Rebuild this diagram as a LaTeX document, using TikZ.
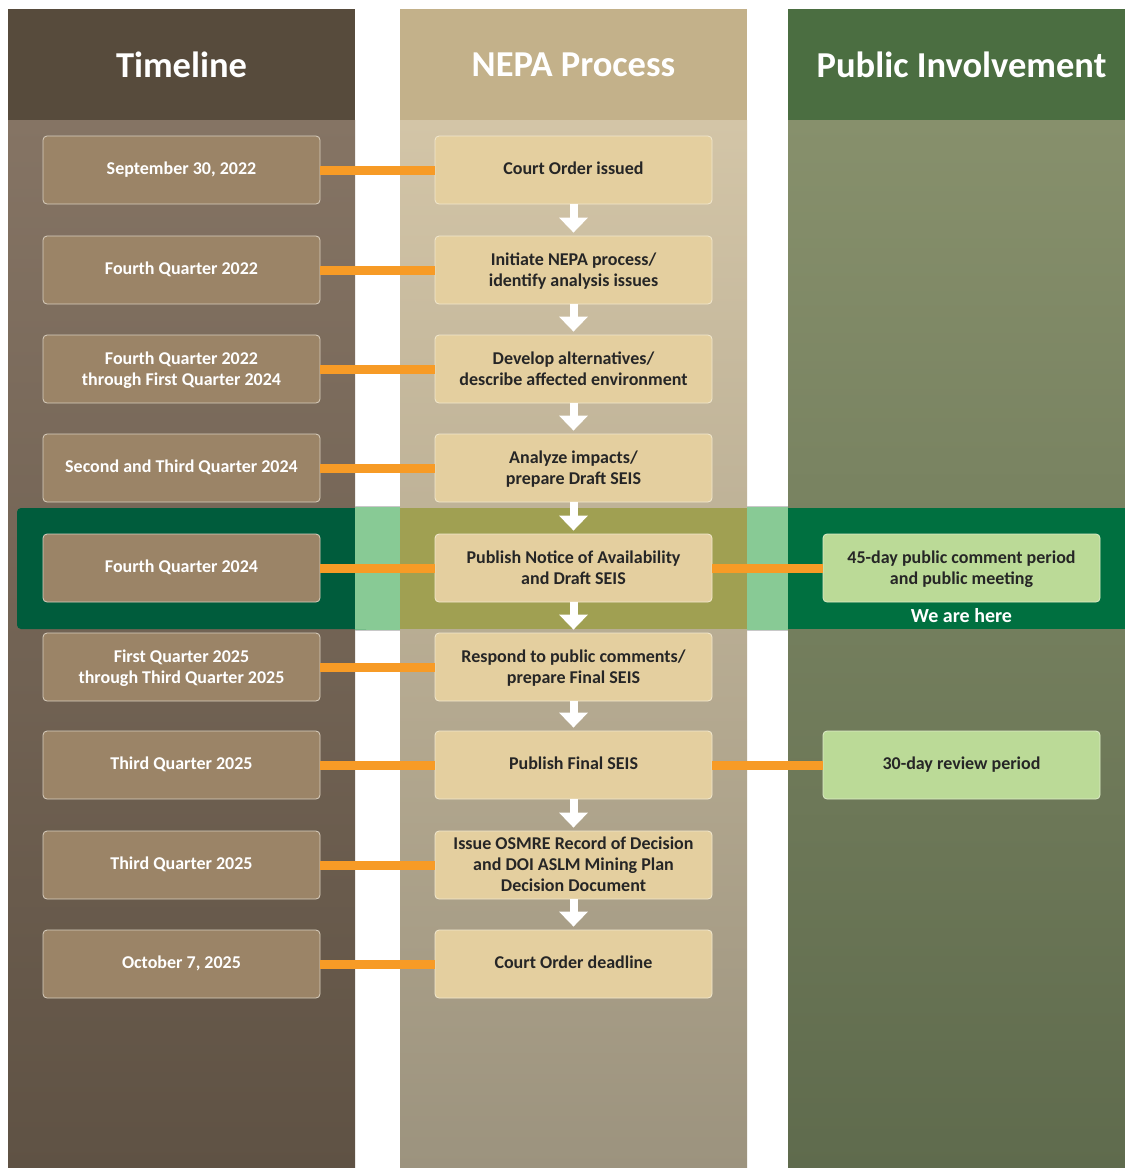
\documentclass[tikz,border=0pt]{standalone}
\usepackage{fontspec}
\setmainfont{Carlito}
\usetikzlibrary{arrows.meta,calc}
\definecolor{tlHead}{HTML}{574B3C}
\definecolor{tlTop}{HTML}{857464}
\definecolor{tlBot}{HTML}{5F5244}
\definecolor{tlBox}{HTML}{9B8467}
\definecolor{tlBorder}{HTML}{D9CFBF}
\definecolor{npHead}{HTML}{C3B18A}
\definecolor{npTop}{HTML}{D3C5A7}
\definecolor{npBot}{HTML}{9C937E}
\definecolor{npBox}{HTML}{E4CF9F}
\definecolor{npBorder}{HTML}{F2E8CE}
\definecolor{puHead}{HTML}{4B6E41}
\definecolor{puTop}{HTML}{87906C}
\definecolor{puBot}{HTML}{5F6B4D}
\definecolor{puBox}{HTML}{BBDA97}
\definecolor{puBorder}{HTML}{DDEBC8}
\definecolor{orangeC}{HTML}{F79B26}
\definecolor{bandTL}{HTML}{005C3C}
\definecolor{bandGap}{HTML}{88CA95}
\definecolor{bandNP}{HTML}{A0A052}
\definecolor{bandPU}{HTML}{007040}
\definecolor{bandEdge}{HTML}{C8C8C8}
\definecolor{darkText}{HTML}{262626}
\tikzset{
  basebox/.style={rounded corners=4pt, line width=0.8pt, minimum width=277pt, minimum height=68pt, inner sep=0pt, text depth=4.5pt, align=center, font=\fontsize{18}{21}\selectfont\bfseries},
  ml/.style={text depth=1.5pt},
  tlbox/.style={basebox, draw=tlBorder, fill=tlBox, text=white},
  npbox/.style={basebox, draw=npBorder, fill=npBox, text=darkText},
  pubox/.style={basebox, draw=puBorder, fill=puBox, text=darkText},
  headtext/.style={text=white, font=\fontsize{36.5}{40}\selectfont\bfseries},
  link/.style={draw=orangeC, line width=9pt},
  flow/.style={draw=white, line width=8pt, -{Triangle[width=28pt,length=15pt]}},
}
\begin{document}
\begin{tikzpicture}[x=1pt,y=-1pt]
\useasboundingbox (0,0) rectangle (1125,1168);
\fill[white] (0,0) rectangle (1125,1168);
% columns
\shade[top color=tlTop, bottom color=tlBot] (8,120) rectangle (355,1168);
\fill[tlHead] (8,9) rectangle (355,120);
\shade[top color=npTop, bottom color=npBot] (400,120) rectangle (747,1168);
\fill[npHead] (400,9) rectangle (747,120);
\shade[top color=puTop, bottom color=puBot] (788,120) rectangle (1125,1168);
\fill[puHead] (788,9) rectangle (1125,120);
\node[headtext] (h1) at (181.5,65) {Timeline};
\node[headtext] (h2) at (573.5,65) {NEPA Process};
\node[headtext] (h3) at (961.5,65) {Public Involvement};
% highlight band
\fill[bandGap] (355,506.5) rectangle (400,630.5);
\fill[bandGap] (747,506.5) rectangle (788,630.5);
\draw[bandEdge, line width=0.8pt] (355,506.5) -- (400,506.5) (355,630.5) -- (400,630.5)
  (747,506.5) -- (788,506.5) (747,630.5) -- (788,630.5);
\fill[bandTL, rounded corners=4pt] (17,508) rectangle (370,629);
\fill[bandGap] (355,508) rectangle (400,629);
\fill[bandNP] (400,508) rectangle (747,629);
\fill[bandGap] (747,508) rectangle (788,629);
\fill[bandPU] (788,508) rectangle (1125,629);
\node[text=white, font=\fontsize{20}{24}\selectfont\bfseries] (here) at (961.5,616) {We are here};
% timeline boxes
\node[tlbox] (t1) at (181.5,170) {September 30, 2022};
\node[tlbox] (t2) at (181.5,270) {Fourth Quarter 2022};
\node[tlbox, ml] (t3) at (181.5,369) {Fourth Quarter 2022\\through First Quarter 2024};
\node[tlbox] (t4) at (181.5,468) {Second and Third Quarter 2024};
\node[tlbox] (t5) at (181.5,568) {Fourth Quarter 2024};
\node[tlbox, ml] (t6) at (181.5,667) {First Quarter 2025\\through Third Quarter 2025};
\node[tlbox] (t7) at (181.5,765) {Third Quarter 2025};
\node[tlbox] (t8) at (181.5,865) {Third Quarter 2025};
\node[tlbox] (t9) at (181.5,964) {October 7, 2025};
% NEPA boxes
\node[npbox] (n1) at (573.5,170) {Court Order issued};
\node[npbox, ml] (n2) at (573.5,270) {Initiate NEPA process/\\identify analysis issues};
\node[npbox, ml] (n3) at (573.5,369) {Develop alternatives/\\describe affected environment};
\node[npbox, ml] (n4) at (573.5,468) {Analyze impacts/\\prepare Draft SEIS};
\node[npbox, ml] (n5) at (573.5,568) {Publish Notice of Availability\\and Draft SEIS};
\node[npbox, ml] (n6) at (573.5,667) {Respond to public comments/\\prepare Final SEIS};
\node[npbox] (n7) at (573.5,765) {Publish Final SEIS};
\node[npbox, ml] (n8) at (573.5,865) {Issue OSMRE Record of Decision\\and DOI ASLM Mining Plan\\Decision Document};
\node[npbox] (n9) at (573.5,964) {Court Order deadline};
% public boxes
\node[pubox, ml] (p5) at (961.5,568) {45-day public comment period\\and public meeting};
\node[pubox] (p7) at (961.5,765) {30-day review period};
% orange links
\foreach \i in {1,...,9} {\draw[link] (t\i.east) -- (n\i.west);}
\draw[link] (n5.east) -- (p5.west);
\draw[link] (n7.east) -- (p7.west);
% flow arrows
\foreach \a/\b in {1/2,2/3,3/4,4/5,5/6,6/7,7/8,8/9} {
  \draw[flow] (n\a.south) -- ($(n\b.north)+(0,-3)$);
}
\end{tikzpicture}
\end{document}
